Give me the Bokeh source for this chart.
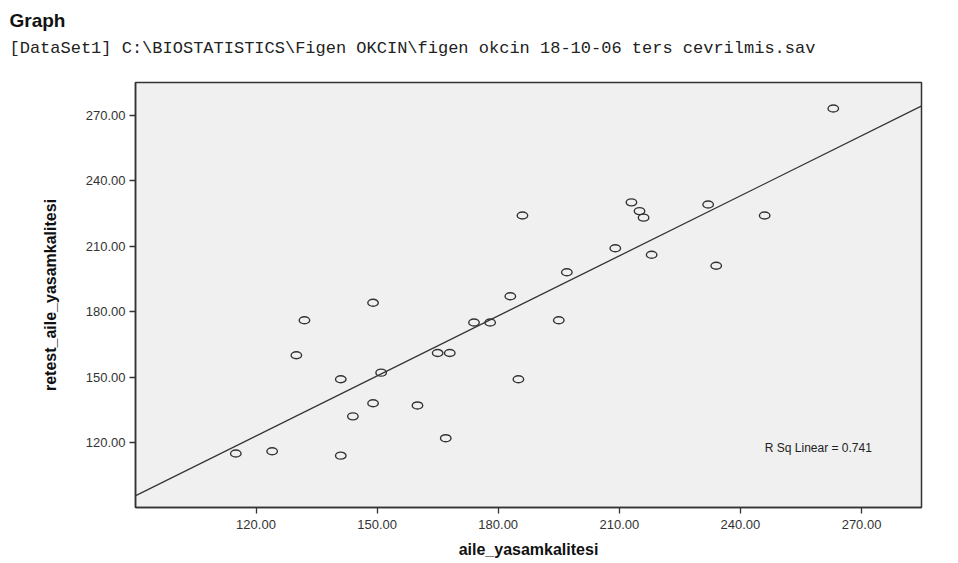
import numpy as np
from bokeh.plotting import figure
from bokeh.models import (FixedTicker, PrintfTickFormatter, Slope, Label, Title, Range1d,
                          ColumnDataSource)
from bokeh.embed import file_html
from bokeh.resources import INLINE

# ---- data ----
title_text = "Graph"
subtitle_text = "[DataSet1] C:\\BIOSTATISTICS\\Figen OKCIN\\figen okcin 18-10-06 ters cevrilmis.sav"
x_label = "aile_yasamkalitesi"
y_label = "retest_aile_yasamkalitesi"
rsq_text = "R Sq Linear = 0.741"

aile = [263, 213, 215, 216, 232, 186, 209, 218, 246, 197, 234, 183, 195, 174, 178,
        149, 132, 130, 165, 168, 151, 141, 185, 149, 144, 160, 167, 115, 124, 141]
retest = [273, 230, 226, 223, 229, 224, 209, 206, 224, 198, 201, 187, 176, 175, 175,
          184, 176, 160, 161, 161, 152, 149, 149, 138, 132, 137, 122, 115, 116, 114]
tick_values = [120, 150, 180, 210, 240, 270]
x_limits = [90.15, 284.85]
y_limits = [90.25, 284.9]
rsq_pos = [259.3, 117.7]

# ---- figure ----
p = figure(width=956, height=561, output_backend="svg", toolbar_location=None,
           title=None, x_range=Range1d(*x_limits), y_range=Range1d(*y_limits),
           min_border_left=135, min_border_right=35, min_border_top=82, min_border_bottom=54)
p.background_fill_color = "#f0f0f0"
p.border_fill_color = "white"
p.outline_line_color = "#333333"
p.outline_line_width = 1.5
p.xgrid.visible = False
p.ygrid.visible = False

xax = p.below[0]
yax = p.left[0]

for ax in (xax, yax):
    ax.ticker = FixedTicker(ticks=tick_values)
    ax.formatter = PrintfTickFormatter(format="%.2f")
    ax.minor_tick_line_color = None
    ax.major_tick_in = 0
    ax.major_tick_out = 6
    ax.major_tick_line_color = "#333333"
    ax.major_tick_line_width = 1.3
    ax.axis_line_color = "#333333"
    ax.axis_line_width = 1.5
    ax.major_label_text_font = "Liberation Sans"
    ax.major_label_text_font_size = "13px"
    ax.major_label_text_color = "#333333"
    ax.axis_label_text_font = "Liberation Sans"
    ax.axis_label_text_font_size = "16px"
    ax.axis_label_text_font_style = "bold"
    ax.axis_label_text_color = "#111111"

xax.axis_label = x_label
yax.axis_label = y_label
xax.major_label_standoff = 6
xax.axis_label_standoff = 9
yax.major_label_standoff = 4
yax.axis_label_standoff = 24

# dataset line: a trailing empty line keeps a gap between it and the frame
sub = Title(text=subtitle_text + "\n", text_font="Liberation Mono", text_font_size="17px",
            text_font_style="normal", text_color="#222222", align="left", offset=-126,
            standoff=12)
p.add_layout(sub, "above")
main = Title(text=title_text, text_font="Liberation Sans", text_font_size="19px",
             text_font_style="bold", text_color="#111111", align="left", offset=-126,
             standoff=0)
p.add_layout(main, "above")

# regression line from the data
m, b = np.polyfit(np.array(aile, float), np.array(retest, float), 1)
p.add_layout(Slope(gradient=float(m), y_intercept=float(b), line_color="#333333", line_width=1.3))

src = ColumnDataSource(dict(x=aile, y=retest))
p.ellipse(x="x", y="y", width=10.5, height=7, width_units="screen", height_units="screen",
          fill_color=None, line_color="#333333", line_width=1.4, source=src)

p.add_layout(Label(x=rsq_pos[0], y=rsq_pos[1], text=rsq_text, text_align="center",
                   text_baseline="middle", text_font="Liberation Sans", text_font_size="12px",
                   text_color="#222222"))

open("out.html", "w").write(file_html(p, INLINE))
